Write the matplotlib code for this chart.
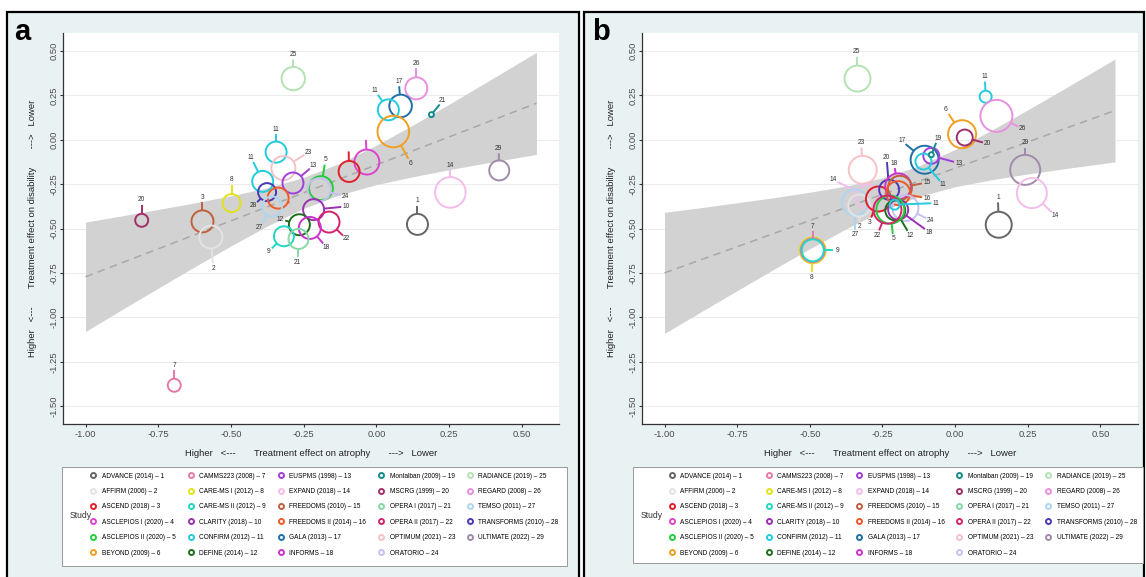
import numpy as np
import matplotlib.pyplot as plt
from matplotlib.lines import Line2D
from matplotlib.patches import Rectangle
from matplotlib.ticker import FormatStrFormatter

plt.rcParams['font.family'] = ['Liberation Sans', 'DejaVu Sans']
plt.rcParams['axes.unicode_minus'] = False

W, H = 1146, 577

# ---- studies / legend ----
studies = ['ADVANCE (2014)', 'AFFIRM (2006)', 'ASCEND (2018)', 'ASCLEPIOS I (2020)',
           'ASCLEPIOS II (2020)', 'BEYOND (2009)', 'CAMMS223 (2008)', 'CARE-MS I (2012)',
           'CARE-MS II (2012)', 'CLARITY (2018)', 'CONFIRM (2012)', 'DEFINE (2014)',
           'EUSPMS (1998)', 'EXPAND (2018)', 'FREEDOMS (2010)', 'FREEDOMS II (2014)',
           'GALA (2013)', 'INFORMS', 'Montalban (2009)', 'MSCRG (1999)', 'OPERA I (2017)',
           'OPERA II (2017)', 'OPTIMUM (2021)', 'ORATORIO', 'RADIANCE (2019)',
           'REGARD (2008)', 'TEMSO (2011)', 'TRANSFORMS (2010)', 'ULTIMATE (2022)']
study_col = ['#666666', '#E3E3E3', '#E0202A', '#DD44CC', '#22CC3A', '#F0A020', '#E57AA8',
             '#E2E21C', '#22D8C2', '#9B30B0', '#22CCDD', '#1D6E1D', '#A040D8', '#F2BDEA',
             '#C0603E', '#F05A28', '#2070A8', '#CC33CC', '#178C8C', '#A0306A', '#86D8A6',
             '#D4246C', '#F5C2C8', '#C8C0F0', '#B4E2B4', '#E890E0', '#AED6F0', '#4A3AB5',
             '#A08CAA']

# ---- panel a: atrophy vs disability ----
a_x = [-0.286, 0.137, 0.083, 0.041, 0.189, 0.058, -0.033, -0.094, 0.422, 0.254, 0.141,
       -0.807, -0.598, -0.569, -0.498, -0.695, -0.345, -0.320, -0.391, -0.287, -0.191,
       -0.197, -0.376, -0.338, -0.359, -0.216, -0.265, -0.163, -0.229, -0.318, -0.268]
a_y = [0.345, 0.290, 0.191, 0.169, 0.142, 0.047, -0.125, -0.178, -0.172, -0.296, -0.476,
       -0.453, -0.459, -0.547, -0.356, -1.382, -0.069, -0.159, -0.234, -0.243, -0.272,
       -0.281, -0.294, -0.328, -0.375, -0.393, -0.478, -0.463, -0.496, -0.543, -0.558]
a_wt = [11.7, 11, 11.3, 10.5, 2.5, 15.8, 12.5, 10.5, 10, 15.3, 10.5,
        6.5, 11, 11.5, 9, 6.5, 10.5, 12, 10.5, 10.5, 12,
        11.5, 9, 10.5, 10, 10.5, 10.5, 10.5, 11, 10, 10]
a_study = [25, 26, 17, 11, 19, 6, 4, 3, 29, 14, 1, 20, 15, 2, 8, 7, 11, 23, 11, 13, 5,
           24, 28, 16, 27, 10, 12, 22, 18, 9, 21]
a_lab = ['25', '26', '17', '11', '21', '6', '', '', '29', '14', '1', '20', '3', '2', '8',
         '7', '11', '23', '11', '13', '5', '24', '28', '', '27', '10', '12', '22', '18',
         '9', '21']
a_lx = [-0.287, 0.137, 0.077, -0.005, 0.228, 0.118, -0.037, -0.096, 0.420, 0.254, 0.141,
        -0.807, -0.598, -0.561, -0.498, -0.695, -0.345, -0.233, -0.431, -0.216, -0.175,
        -0.107, -0.422, -0.283, -0.402, -0.104, -0.330, -0.103, -0.172, -0.372, -0.271]
a_ly = [0.481, 0.431, 0.330, 0.277, 0.221, -0.131, 0.028, -0.037, -0.047, -0.142, -0.343,
        -0.337, -0.322, -0.723, -0.225, -1.27, 0.060, -0.069, -0.099, -0.144, -0.112,
        -0.318, -0.371, -0.365, -0.493, -0.375, -0.446, -0.558, -0.605, -0.631, -0.689]

# ---- panel b ----
b_x = [-0.336, 0.105, 0.142, 0.024, 0.033, 0.241, 0.264, 0.150, -0.105, -0.082, -0.109,
       -0.082, -0.318, -0.300, -0.345, -0.330, -0.264, -0.227, -0.196, -0.190, -0.196,
       -0.171, -0.196, -0.206, -0.223, -0.233, -0.208, -0.490, -0.490, -0.490]
b_y = [0.345, 0.243, 0.135, 0.032, 0.013, -0.169, -0.300, -0.478, -0.112, -0.090, -0.122,
       -0.084, -0.169, -0.320, -0.352, -0.370, -0.333, -0.281, -0.262, -0.270, -0.300,
       -0.384, -0.393, -0.397, -0.393, -0.393, -0.365, -0.622, -0.622, -0.622]
b_wt = [13, 6, 16, 14, 8, 15, 15, 13, 14, 8, 8, 2.5, 14, 12, 13, 11, 12.5, 10, 13, 12,
        12, 13, 10, 10, 14, 14, 5, 13, 12, 11]
b_study = [25, 11, 26, 6, 20, 29, 14, 1, 17, 13, 11, 19, 23, 14, 27, 2, 3, 28, 18, 15, 16,
           24, 10, 12, 5, 22, 11, 8, 7, 9]
b_lab = ['25', '11', '26', '6', '20', '29', '14', '1', '17', '13', '11', '19', '23', '14',
         '27', '2', '3', '20', '18', '15', '16', '24', '18', '12', '5', '22', '11', '8',
         '7', '9']
b_lx = [-0.339, 0.102, 0.233, -0.032, 0.112, 0.241, 0.345, 0.147, -0.184, 0.013, -0.041,
        -0.059, -0.323, -0.420, -0.345, -0.329, -0.295, -0.236, -0.211, -0.097, -0.097,
        -0.084, -0.090, -0.155, -0.213, -0.268, -0.065, -0.494, -0.490, -0.404]
b_ly = [0.496, 0.356, 0.062, 0.169, -0.022, -0.015, -0.427, -0.324, -0.006, -0.131, -0.253,
        0.009, -0.015, -0.225, -0.534, -0.487, -0.464, -0.097, -0.131, -0.240, -0.328,
        -0.453, -0.519, -0.536, -0.558, -0.536, -0.356, -0.773, -0.487, -0.622]

# regression line and confidence band
band_x = [-1, -0.875, -0.75, -0.625, -0.5, -0.375, -0.25, -0.125, 0, 0.125, 0.25, 0.375, 0.5, 0.55]
a_hi = [-0.463, -0.428, -0.392, -0.355, -0.315, -0.270, -0.211, -0.131, -0.030, 0.083, 0.201, 0.322, 0.444, 0.493]
a_lo = [-1.079, -0.956, -0.835, -0.715, -0.597, -0.485, -0.386, -0.309, -0.252, -0.208, -0.168, -0.131, -0.096, -0.082]
b_hi = [-0.408, -0.382, -0.354, -0.326, -0.295, -0.260, -0.214, -0.147, -0.054, 0.054, 0.169, 0.287, 0.407, 0.455]
b_lo = [-1.090, -0.969, -0.849, -0.730, -0.613, -0.501, -0.399, -0.319, -0.264, -0.225, -0.192, -0.163, -0.135, -0.124]
fit_x = [-1, 0.55]
a_fit = [-0.771, 0.206]
b_fit = [-0.749, 0.165]


def fx(p):
    return p / W


def fy(p):
    return 1 - p / H


def draw_panel(ax, xs, ys, wts, keys, labs, lxs, lys, lo, hi, fit):
    ax.set_xlim(-1.0775, 0.6275)
    ax.set_ylim(-1.6, 0.6)
    ax.set_facecolor('white')
    for s in ['top', 'right']:
        ax.spines[s].set_visible(False)
    for s in ['left', 'bottom']:
        ax.spines[s].set_color('#333333')
        ax.spines[s].set_linewidth(0.9)
    ax.set_xticks(np.linspace(-1, 0.5, 7))
    ax.set_yticks(np.linspace(-1.5, 0.5, 9))
    ax.xaxis.set_major_formatter(FormatStrFormatter('%.2f'))
    ax.yaxis.set_major_formatter(FormatStrFormatter('%.2f'))
    ax.tick_params(length=2.5, width=0.8, color='#333333', labelsize=6.8,
                   labelcolor='#4D4D4D', pad=1.5)
    ax.tick_params(axis='y', labelrotation=90, pad=0.6)
    plt.setp(ax.get_yticklabels(), va='center')
    ax.grid(axis='y', color='#EBEBEB', lw=0.7, zorder=0)
    ax.set_axisbelow(True)

    ax.fill_between(band_x, lo, hi, color='#D2D2D2', lw=0, zorder=1)
    ax.plot(fit_x, fit, color='#A8A8A8', lw=1.1, ls=(0, (5, 3.5)), zorder=2)

    # open circle per study arm, with a short pin leading to its number
    inv = ax.transData.inverted()
    for x, y, r, k, lab, lx, ly in zip(xs, ys, wts, keys, labs, lxs, lys):
        c = study_col[k - 1]
        p = ax.transData.transform((x, y))
        q = ax.transData.transform((lx, ly))
        d = q - p
        dist = np.hypot(*d)
        u = d / dist
        if dist - 5 > r:
            s0 = inv.transform(p + u * r)
            s1 = inv.transform(q - u * 5)
            ax.plot([s0[0], s1[0]], [s0[1], s1[1]], color=c, lw=1.4,
                    solid_capstyle='butt', zorder=3)
        ax.scatter([x], [y], s=(2 * r * 0.72) ** 2, facecolors='none',
                   edgecolors=c, linewidths=1.4, zorder=3)
        if lab:
            ax.text(lx, ly, lab, fontsize=4.8, ha='center', va='center',
                    color='#333333', zorder=4)


fig = plt.figure(figsize=(W / 100, H / 100), dpi=100)
fig.patch.set_facecolor('white')

# panel backgrounds
for x0, x1 in [(7, 579), (584, 1144)]:
    fig.add_artist(Rectangle((fx(x0), fy(600)), (x1 - x0) / W, 588 / H,
                             transform=fig.transFigure, facecolor='#E9F2F3',
                             edgecolor='black', lw=1.6, zorder=-2))

ax_a = fig.add_axes([fx(63), fy(424), 496 / W, 390.7 / H])
ax_b = fig.add_axes([fx(642), fy(424), 495.5 / W, 390.7 / H])

draw_panel(ax_a, a_x, a_y, a_wt, a_study, a_lab, a_lx, a_ly, a_lo, a_hi, a_fit)
draw_panel(ax_b, b_x, b_y, b_wt, b_study, b_lab, b_lx, b_ly, b_lo, b_hi, b_fit)

xtitle = 'Higher   <---       Treatment effect on atrophy       --->   Lower'
ytitle = 'Higher   <---       Treatment effect on disability       --->   Lower'

handles = [Line2D([], [], marker='o', ls='none', markerfacecolor='white',
                  markeredgecolor=c, markersize=3.6, markeredgewidth=1.4)
           for c in study_col]
labels = ['%s \u2013 %d' % (s, i + 1) for i, s in enumerate(studies)]

for tag, ax, tx, ytx, box, mark_x in [('a', ax_a, 14, 33, (62, 567, 467, 566), 93.3),
                                       ('b', ax_b, 592, 612, (633, 1143, 467, 563), 671.7)]:
    fig.text(fx(tx), fy(40), tag, fontsize=21, fontweight='bold', ha='left',
             va='baseline', color='black')
    pos = ax.get_position()
    fig.text((pos.x0 + pos.x1) / 2, fy(453), xtitle, fontsize=6.8, ha='center',
             va='center', color='#222222')
    fig.text(fx(ytx), (pos.y0 + pos.y1) / 2, ytitle, fontsize=6.8, ha='center',
             va='center', rotation=90, color='#222222')

    bx0, bx1, by0, by1 = box
    fig.add_artist(Rectangle((fx(bx0), fy(by1)), (bx1 - bx0) / W, (by1 - by0) / H,
                             transform=fig.transFigure, facecolor='white',
                             edgecolor='#999999', lw=0.7, zorder=0.5))
    fig.text(fx(bx0 + 8), fy(515), 'Study', fontsize=6.2, ha='left', va='center',
             color='#333333')
    fig.legend(handles, labels, loc='upper left',
               bbox_to_anchor=(fx(mark_x - 3.3), fy(472.5)),
               bbox_transform=fig.transFigure, ncol=5, frameon=False,
               fontsize=4.7, handlelength=1.0, handleheight=0.7,
               handletextpad=0.8, columnspacing=1.8, labelspacing=1.29,
               borderpad=0, borderaxespad=0)

fig.savefig('out.png', dpi=100)
